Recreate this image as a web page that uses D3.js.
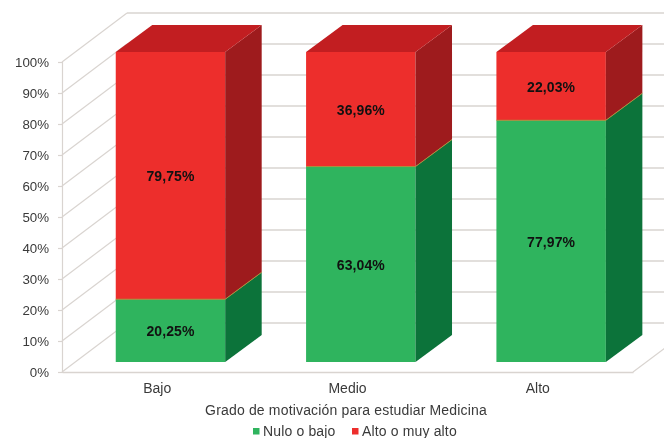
<!DOCTYPE html>
<html><head><meta charset="utf-8">
<script src="https://cdn.jsdelivr.net/npm/d3@7"></script>
<style>
html,body{margin:0;padding:0;background:#fff}
svg{display:block;filter:blur(0.6px)}
text{font-family:"Liberation Sans",Arial,sans-serif}
</style></head><body><div id="c"></div>
<script>
const categories = ["Bajo","Medio","Alto"];
const nuloBajo = [20.25,63.04,77.97];
const altoMuyAlto = [79.75,36.96,22.03];
const labelsNulo = ["20,25%","63,04%","77,97%"];
const labelsAlto = ["79,75%","36,96%","22,03%"];
const yTicks = [0,10,20,30,40,50,60,70,80,90,100];
const seriesNames = ["Nulo o bajo","Alto o muy alto"];
const axisTitle = "Grado de motivación para estudiar Medicina";

const W=664,H=438;
const svg=d3.select("#c").append("svg").attr("width",W).attr("height",H);
const grid="#d9d4d0";
const x=d3.scaleBand().domain(categories).range([62,633]).paddingInner(0).paddingOuter(0);
const y=d3.scaleLinear().domain([0,100]).range([372,62]);
const wallDX=65, wallDY=-49;
const barOX=13.3, barOY=-10, barDX=36.5, barDY=-27;
const barW=x.bandwidth()*0.575;
const pts=a=>a.map(p=>p.join(",")).join(" ");

// walls
yTicks.forEach(t=>{
  svg.append("line").attr("x1",62).attr("y1",y(t)).attr("x2",62+wallDX).attr("y2",y(t)+wallDY)
    .attr("stroke",grid).attr("stroke-width",1.2);
  svg.append("line").attr("x1",62+wallDX).attr("y1",y(t)+wallDY).attr("x2",W+2).attr("y2",y(t)+wallDY)
    .attr("stroke",grid).attr("stroke-width",1.4);
});
svg.append("line").attr("x1",633).attr("y1",y(0)).attr("x2",633+wallDX).attr("y2",y(0)+wallDY)
  .attr("stroke",grid).attr("stroke-width",1.2);

// axes
const gy=svg.append("g").attr("transform","translate(62,0)")
  .call(d3.axisLeft(y).tickValues(yTicks).tickFormat(d=>d+"%").tickSize(4).tickPadding(9));
gy.selectAll("path,line").attr("stroke",grid).attr("stroke-width",1.2);
gy.selectAll("text").attr("fill","#3a3a3a").style("font-size","13.3px").style("font-family",'"Liberation Sans"').attr("letter-spacing","0");
const gx=svg.append("g").attr("transform","translate(0,372)")
  .call(d3.axisBottom(x).tickSize(0).tickPadding(11));
gx.selectAll("path").attr("stroke",grid).attr("stroke-width",1.5);
gx.selectAll("text").attr("fill","#3a3a3a").style("font-size","14px").style("font-family",'"Liberation Sans"').attr("letter-spacing","0");

// bars
const colors={
  g:{front:"#2fb45e",side:"#0c733a"},
  r:{front:"#ed2e2c",side:"#9e1b1d",top:"#c21e21"}
};
const g=svg.append("g");
categories.forEach((c,i)=>{
  const l=x(c)+(x.bandwidth()-barW)/2+barOX, r=l+barW;
  const sy=v=>y(v)+barOY;
  const n=nuloBajo[i], a=altoMuyAlto[i], top=n+a;
  // green
  g.append("rect").attr("x",l).attr("y",sy(n)).attr("width",barW).attr("height",sy(0)-sy(n)).attr("fill",colors.g.front);
  g.append("polygon").attr("points",pts([[r,sy(0)],[r+barDX,sy(0)+barDY],[r+barDX,sy(n)+barDY],[r,sy(n)]])).attr("fill",colors.g.side);
  // red
  g.append("rect").attr("x",l).attr("y",sy(top)).attr("width",barW).attr("height",sy(n)-sy(top)).attr("fill",colors.r.front);
  g.append("polygon").attr("points",pts([[r,sy(n)],[r+barDX,sy(n)+barDY],[r+barDX,sy(top)+barDY],[r,sy(top)]])).attr("fill",colors.r.side);
  g.append("polygon").attr("points",pts([[l,sy(top)],[l+barDX,sy(top)+barDY],[r+barDX,sy(top)+barDY],[r,sy(top)]])).attr("fill",colors.r.top);
  // seam
  g.append("polyline").attr("points",pts([[l,sy(n)],[r,sy(n)],[r+barDX,sy(n)+barDY]])).attr("fill","none").attr("stroke","#a8913c").attr("stroke-width",1);
  // labels
  const cx=(l+r)/2;
  g.append("text").attr("x",cx).attr("y",(sy(0)+sy(n))/2+5.5).attr("text-anchor","middle")
    .attr("font-size",14).attr("font-weight","bold").attr("fill","#111").attr("letter-spacing","0.1").text(labelsNulo[i]);
  g.append("text").attr("x",cx).attr("y",(sy(n)+sy(top))/2+5.5).attr("text-anchor","middle")
    .attr("font-size",14).attr("font-weight","bold").attr("fill","#111").attr("letter-spacing","0.1").text(labelsAlto[i]);
});

// title
svg.append("text").attr("x",346).attr("y",414.5).attr("text-anchor","middle").attr("font-size",14).attr("fill","#3a3a3a").attr("letter-spacing","0.17").text(axisTitle);

// legend
const legendX=[253,352], legendCol=[colors.g.front,colors.r.front];
seriesNames.forEach((s,i)=>{
  svg.append("rect").attr("x",legendX[i]).attr("y",428).attr("width",6.5).attr("height",6.5).attr("fill",legendCol[i]);
  svg.append("text").attr("x",legendX[i]+10).attr("y",436).attr("font-size",14).attr("fill","#3a3a3a").attr("letter-spacing","0.15").text(s);
});
</script></body></html>
